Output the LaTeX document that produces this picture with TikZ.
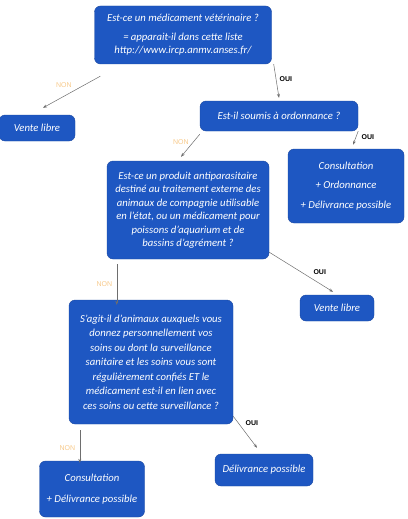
\documentclass[tikz,border=0pt]{standalone}
\usepackage{fontspec}
\setmainfont{Carlito}
\newfontfamily\labelfont{Liberation Sans}
\usepackage{tikz}
\usetikzlibrary{arrows.meta, positioning}
\usepackage{xcolor}

\definecolor{boxblue}{HTML}{1E57C2}
\definecolor{boxedge}{HTML}{1A48A0}
\definecolor{arrowgray}{HTML}{6E6E6E}
\definecolor{nonorange}{HTML}{F7C98A}

\tikzset{
  qbox/.style={draw=boxedge, fill=boxblue, rounded corners=6pt, text=white,
    align=center, inner sep=3pt,
    font=\fontsize{10.7}{13.5}\selectfont\itshape},
  link/.style={-{Stealth[length=4pt,width=3pt]}, draw=arrowgray, line width=0.5pt},
  oui/.style={font=\labelfont\bfseries\fontsize{7}{8}\selectfont, text=black},
  non/.style={font=\labelfont\fontsize{7}{8}\selectfont, text=nonorange}
}

\begin{document}
\begin{tikzpicture}[x=1pt, y=-1pt]
  \useasboundingbox (0,0) rectangle (407,519);
  \node[qbox, minimum width=177pt, minimum height=58pt] (veto) at (183, 35)
    {Est-ce un médicament vétérinaire ?\\[5pt] = apparait-il dans cette liste\\ http://www.ircp.anmv.anses.fr/};
  \node[qbox, minimum width=76pt, minimum height=26pt] (libreA) at (37, 128) {Vente libre};
  \node[qbox, minimum width=158pt, minimum height=30pt] (ordo) at (279, 116) {Est-il soumis à ordonnance ?};
  \node[qbox, minimum width=162pt, minimum height=98pt] (antipara) at (188, 210)
    {Est-ce un produit antiparasitaire\\ destiné au traitement externe des\\ animaux de compagnie utilisable\\ en l’état, ou un médicament pour\\ poissons d’aquarium et de\\ bassins d’agrément ?};
  \node[qbox, minimum width=116pt, minimum height=74pt] (consultA) at (346, 186)
    {Consultation\\[6pt] + Ordonnance\\[6pt] + Délivrance possible};
  \node[qbox, minimum width=74pt, minimum height=26pt] (libreB) at (337, 308) {Vente libre};
  \node[qbox, minimum width=164pt, minimum height=124pt, font=\fontsize{10.7}{14.5}\selectfont\itshape] (soins) at (151, 362)
    {S’agit-il d’animaux auxquels vous\\ donnez personnellement vos\\ soins ou dont la surveillance\\ sanitaire et les soins vous sont\\ régulièrement confiés ET le\\ médicament est-il en lien avec\\ ces soins ou cette surveillance ?};
  \node[qbox, minimum width=105pt, minimum height=56pt] (consultB) at (92, 489)
    {Consultation\\[7pt] + Délivrance possible};
  \node[qbox, minimum width=98pt, minimum height=32pt] (deliv) at (264, 470) {Délivrance possible};

  \draw[link] ([shift={(6pt,-12pt)}]veto.south west) -- node[non, pos=0.45, above left=-1pt] {NON} ([shift={(6pt,7pt)}]libreA.north);
  \draw[link] ([xshift=2pt]veto.south east) -- node[oui, pos=0.45, right] {OUI} ([yshift=3pt]ordo.north);
  \draw[link] ([yshift=-3pt]ordo.south west) -- node[non, pos=0.35, left=1pt] {NON} ([shift={(-7pt,4pt)}]antipara.north);
  \draw[link] (ordo.south east) -- node[oui, pos=0.4, right=2pt] {OUI} ([shift={(7pt,4pt)}]consultA.north);
  \draw[link] ([yshift=7pt]antipara.south east) -- node[oui, pos=0.65, above right=-1pt] {OUI} ([shift={(-4pt,3pt)}]libreB.north);
  \draw[link] ([shift={(10pt,-5pt)}]antipara.south west) -- node[non, left=1pt] {NON} ([shift={(10pt,-5pt)}]antipara.south west |- soins.north);
  \draw[link] ([yshift=8pt]soins.south east) -- node[oui, pos=0.4, above right=-1pt] {OUI} ([shift={(-7pt,6pt)}]deliv.north);
  \draw[link, shorten >=4pt] ([shift={(11pt,-6pt)}]soins.south west) -- node[non, left=1pt] {NON} ([shift={(11pt,-6pt)}]soins.south west |- consultB.north);
\end{tikzpicture}
\end{document}
